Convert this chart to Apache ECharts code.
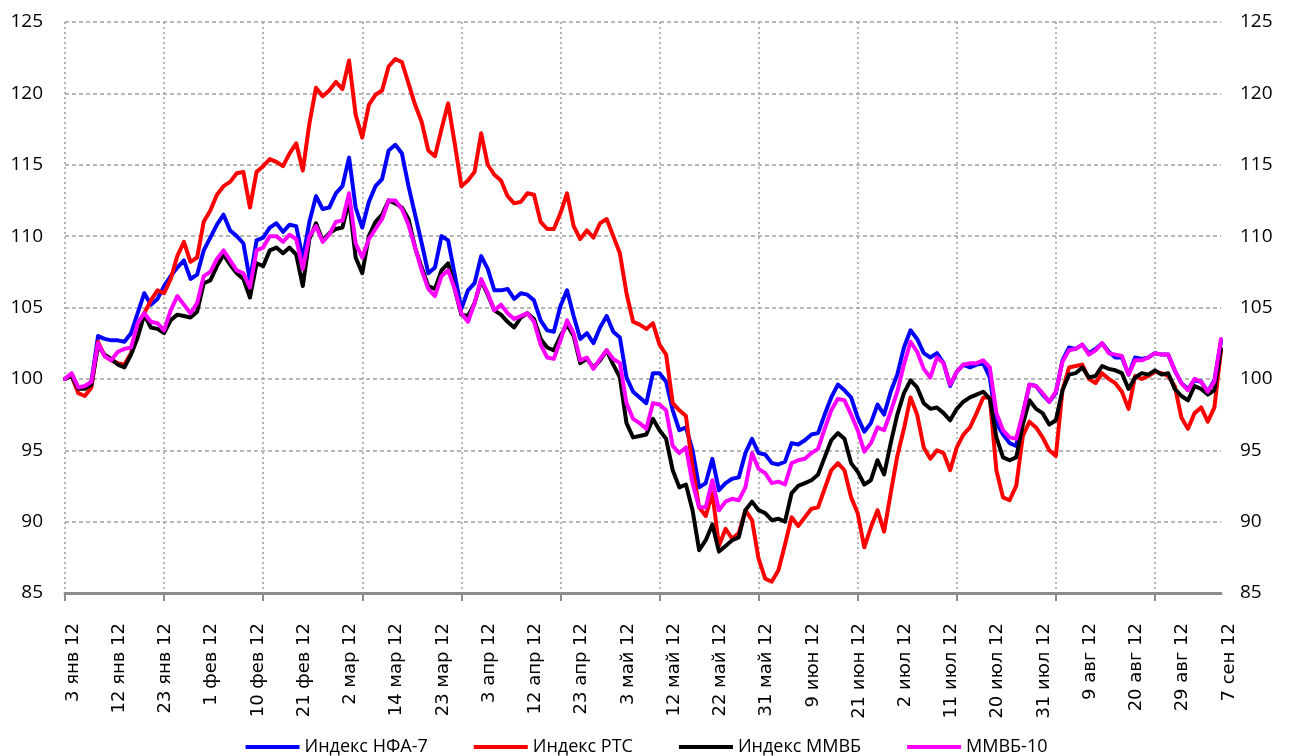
<!DOCTYPE html>
<html>
<head>
<meta charset="utf-8">
<title>Индексы 2012</title>
<script src="https://cdn.jsdelivr.net/npm/echarts@6/dist/echarts.min.js"></script>
<style>
  html, body { margin: 0; padding: 0; background: #fff; }
  #chart { width: 1293px; height: 756px; }
</style>
</head>
<body>
<div id="chart"></div>
<script>
// trading days of 2012 by month (labels are built from these)
var monthNames = ["янв", "фев", "мар", "апр", "май", "июн", "июл", "авг", "сен"];
var tradingDays = [
    [3, 4, 5, 6, 9, 10, 11, 12, 13, 16, 17, 18, 19, 20, 23, 24, 25, 26, 27, 30, 31],
    [1, 2, 3, 6, 7, 8, 9, 10, 13, 14, 15, 16, 17, 20, 21, 22, 24, 27, 28, 29],
    [1, 2, 5, 6, 7, 11, 12, 13, 14, 15, 16, 19, 20, 21, 22, 23, 26, 27, 28, 29, 30],
    [2, 3, 4, 5, 6, 9, 10, 11, 12, 13, 16, 17, 18, 19, 20, 23, 24, 25, 26, 27, 28],
    [2, 3, 4, 5, 7, 8, 10, 11, 12, 14, 15, 16, 17, 18, 21, 22, 23, 24, 25, 28, 29, 30, 31],
    [1, 4, 5, 6, 7, 8, 9, 13, 14, 15, 18, 19, 20, 21, 22, 25, 26, 27, 28, 29],
    [2, 3, 4, 5, 6, 9, 10, 11, 12, 13, 16, 17, 18, 19, 20, 23, 24, 25, 26, 27, 30, 31],
    [1, 2, 3, 6, 7, 8, 9, 10, 13, 14, 15, 16, 17, 20, 21, 22, 23, 24, 27, 28, 29, 30, 31],
    [3, 4, 5, 6, 7]
];

var seriesNames = ["Индекс НФА-7", "Индекс РТС", "Индекс ММВБ", "ММВБ-10"];

var nfa7 = [
    100.0, 100.3, 99.4, 99.4, 99.8, 103.0, 102.8, 102.7, 102.7, 102.6,
    103.2, 104.6, 106.0, 105.2, 105.6, 106.5, 107.2, 107.8, 108.3, 107.0,
    107.3, 109.0, 109.9, 110.8, 111.5, 110.4, 110.0, 109.5, 106.9, 109.7,
    109.9, 110.6, 110.9, 110.3, 110.8, 110.7, 108.4, 111.0, 112.8, 111.9,
    112.0, 113.0, 113.5, 115.5, 112.0, 110.6, 112.4, 113.5, 114.0, 116.0,
    116.4, 115.8, 113.5, 111.5, 109.5, 107.4, 107.8, 110.0, 109.7, 107.3,
    104.9, 106.2, 106.7, 108.6, 107.7, 106.2, 106.2, 106.3, 105.6, 106.0,
    105.9, 105.5, 104.1, 103.4, 103.3, 105.1, 106.2, 104.4, 102.8, 103.2,
    102.5, 103.6, 104.4, 103.3, 102.9, 100.1, 99.1, 98.7, 98.3, 100.4,
    100.4, 99.8, 97.8, 96.4, 96.6, 95.0, 92.4, 92.7, 94.4, 92.2,
    92.7, 93.0, 93.1, 94.8, 95.8, 94.8, 94.7, 94.1, 94.0, 94.2,
    95.5, 95.4, 95.7, 96.1, 96.2, 97.5, 98.7, 99.6, 99.2, 98.7,
    97.3, 96.3, 96.9, 98.2, 97.5, 99.1, 100.3, 102.2, 103.4, 102.8,
    101.8, 101.5, 101.8, 101.1, 99.5, 100.5, 101.0, 100.8, 101.0, 101.1,
    100.1, 96.9, 96.1, 95.5, 95.3, 97.5, 99.6, 99.5, 98.9, 98.4,
    99.0, 101.3, 102.2, 102.1, 102.4, 101.8, 102.1, 102.5, 101.9, 101.5,
    101.5, 100.3, 101.5, 101.4, 101.5, 101.8, 101.7, 101.7, 100.6, 99.7,
    99.3, 99.9, 99.8, 99.1, 99.9, 102.6
];

var rts = [
    100.0, 100.2, 99.0, 98.8, 99.4, 102.6, 101.6, 101.3, 101.1, 101.0,
    101.8, 103.4, 104.6, 105.5, 106.2, 106.0, 107.0, 108.6, 109.6, 108.2,
    108.5, 111.0, 111.8, 112.9, 113.5, 113.8, 114.4, 114.5, 112.0, 114.5,
    114.9, 115.4, 115.2, 114.9, 115.8, 116.5, 114.6, 117.9, 120.4, 119.8,
    120.2, 120.8, 120.3, 122.3, 118.5, 116.9, 119.2, 119.9, 120.2, 121.9,
    122.4, 122.2, 120.7, 119.2, 118.0, 116.0, 115.6, 117.5, 119.3, 116.5,
    113.5, 113.9, 114.5, 117.2, 115.0, 114.3, 113.9, 112.8, 112.3, 112.4,
    113.0, 112.9, 111.0, 110.5, 110.5, 111.6, 113.0, 110.7, 109.8, 110.4,
    109.9, 110.9, 111.2, 110.0, 108.8, 106.0, 104.0, 103.8, 103.5, 103.9,
    102.4, 101.7, 98.3, 97.8, 97.4, 93.8, 91.0, 90.4, 92.0, 88.3,
    89.5, 88.8, 89.2, 90.8, 90.1, 87.4, 86.0, 85.8, 86.6, 88.4,
    90.3, 89.7, 90.3, 90.9, 91.0, 92.3, 93.6, 94.1, 93.6, 91.7,
    90.6, 88.2, 89.6, 90.8, 89.3, 92.0, 94.6, 96.5, 98.7, 97.5,
    95.2, 94.4, 95.0, 94.8, 93.6, 95.2, 96.1, 96.6, 97.6, 98.7,
    98.7, 93.6, 91.7, 91.5, 92.5, 96.0, 97.0, 96.6, 95.9, 95.0,
    94.6, 99.2, 100.8, 100.9, 101.0, 100.0, 99.7, 100.4, 100.0, 99.7,
    99.1, 97.9, 100.2, 100.0, 100.2, 100.5, 100.4, 100.2, 99.5, 97.3,
    96.5, 97.6, 98.0, 97.0, 98.0, 102.0
];

var micex = [
    100.0, 100.2, 99.3, 99.3, 99.6, 102.3, 101.7, 101.4, 101.0, 100.8,
    101.7, 102.9, 104.5, 103.6, 103.5, 103.2, 104.1, 104.5, 104.4, 104.3,
    104.7, 106.7, 106.9, 107.9, 108.7, 108.0, 107.4, 107.0, 105.7, 108.1,
    107.9, 109.0, 109.2, 108.8, 109.2, 108.7, 106.5, 109.8, 110.9, 109.7,
    110.2, 110.5, 110.6, 112.5, 108.5, 107.4, 110.0, 111.0, 111.5, 112.5,
    112.3, 112.0, 111.2, 109.2, 107.8, 106.5, 106.3, 107.6, 108.1, 106.3,
    104.5, 104.4, 105.3, 106.9, 105.9, 104.8, 104.5, 104.0, 103.6, 104.3,
    104.6, 104.2, 102.8, 102.2, 102.0, 103.0, 103.8, 103.0, 101.1, 101.4,
    100.8, 101.3, 102.0, 101.0, 100.1, 96.9, 95.9, 96.0, 96.1, 97.2,
    96.4, 95.8, 93.6, 92.4, 92.6, 90.8, 88.0, 88.7, 89.8, 87.9,
    88.3, 88.7, 88.9, 90.8, 91.4, 90.8, 90.6, 90.1, 90.2, 90.0,
    92.0, 92.5, 92.7, 92.9, 93.3, 94.5, 95.7, 96.2, 95.8, 94.1,
    93.5, 92.6, 92.9, 94.3, 93.3, 95.5, 97.5, 99.0, 99.9, 99.4,
    98.3, 97.9, 98.0, 97.6, 97.1, 97.9, 98.4, 98.7, 98.9, 99.1,
    98.6, 95.9, 94.5, 94.3, 94.5, 96.8, 98.5, 97.9, 97.6, 96.8,
    97.1, 99.2, 100.3, 100.4, 100.8, 100.1, 100.2, 100.9, 100.7, 100.6,
    100.4, 99.3, 100.1, 100.4, 100.3, 100.6, 100.3, 100.4, 99.3, 98.8,
    98.5, 99.5, 99.3, 98.9, 99.2, 102.1
];

var micex10 = [
    100.0, 100.4, 99.4, 99.5, 99.8, 102.5, 101.6, 101.3, 101.9, 102.1,
    102.2, 103.9, 104.6, 104.0, 103.9, 103.4, 104.8, 105.8, 105.2, 104.6,
    105.3, 107.2, 107.5, 108.4, 109.0, 108.3, 107.6, 107.4, 106.4, 109.0,
    109.2, 110.0, 110.0, 109.6, 110.1, 109.8, 107.7, 110.0, 110.7, 109.6,
    110.1, 111.0, 111.1, 113.0, 109.5, 108.5, 109.8, 110.5, 111.2, 112.5,
    112.5, 111.9, 110.8, 109.2, 107.6, 106.3, 105.8, 107.2, 107.6, 106.3,
    104.6, 104.0, 105.3, 107.0, 106.0, 104.8, 105.2, 104.6, 104.2, 104.4,
    104.6, 104.0, 102.4, 101.5, 101.4, 102.7, 104.1, 103.2, 101.3, 101.5,
    100.7, 101.4, 102.0, 101.4, 101.1, 98.3, 97.2, 96.9, 96.5, 98.3,
    98.2, 97.8, 95.3, 94.8, 95.2, 92.7, 91.0, 91.0, 92.9, 90.8,
    91.4, 91.6, 91.5, 92.4, 94.8, 93.7, 93.4, 92.7, 92.8, 92.6,
    94.1, 94.3, 94.4, 94.8, 95.1, 96.5, 97.8, 98.6, 98.5, 97.5,
    96.4, 94.9, 95.5, 96.6, 96.4, 97.7, 99.1, 101.0, 102.6, 101.9,
    100.7, 100.1, 101.5, 101.1, 99.6, 100.5, 101.0, 101.1, 101.1, 101.3,
    100.8, 97.6, 96.4, 95.9, 95.8, 97.6, 99.6, 99.5, 99.0, 98.4,
    99.1, 101.2, 102.0, 102.1, 102.4, 101.7, 102.0, 102.5, 101.8, 101.7,
    101.6, 100.3, 101.3, 101.3, 101.5, 101.8, 101.7, 101.7, 100.6, 99.7,
    99.2, 100.0, 99.8, 99.1, 99.8, 102.8
];

var colors = ["#0000ff", "#ff0000", "#000000", "#ff00ff"];

var categories = [];
tradingDays.forEach(function (days, m) {
    days.forEach(function (d) {
        categories.push(d + " " + monthNames[m] + " 12");
    });
});

var chart = echarts.init(document.getElementById("chart"), null, { renderer: "canvas" });

var yLabelStyle = { color: "#000", fontSize: 19, fontFamily: "Open Sans" };

var option = {
    animation: false,
    backgroundColor: "#fff",
    grid: { left: 65, right: 72, top: 22, bottom: 163, containLabel: false },
    legend: {
        top: 733,
        left: "center",
        icon: "rect",
        itemWidth: 54,
        itemHeight: 4,
        itemGap: 46,
        textStyle: { color: "#000", fontSize: 18, fontFamily: "Open Sans" },
        data: seriesNames
    },
    xAxis: {
        type: "category",
        boundaryGap: false,
        data: categories,
        axisLine: { lineStyle: { color: "#8c8c8c", width: 3 } },
        axisTick: { show: true, interval: 14, length: 8, lineStyle: { color: "#8c8c8c", width: 2 } },
        axisLabel: {
            interval: 6,
            rotate: 90,
            margin: 30,
            verticalAlign: "top",
            lineHeight: 16,
            color: "#000",
            fontSize: 18,
            fontFamily: "DejaVu Sans"
        },
        splitLine: {
            show: true,
            interval: 14,
            lineStyle: { color: "#a0a0a0", width: 1.5, type: [2, 3] }
        }
    },
    yAxis: [
        {
            type: "value",
            min: 85,
            max: 125,
            interval: 5,
            axisLine: { show: false },
            axisTick: { show: false },
            axisLabel: Object.assign({ margin: 22 }, yLabelStyle),
            splitLine: { lineStyle: { color: "#a0a0a0", width: 1.5, type: [4, 3] } }
        },
        {
            type: "value",
            position: "right",
            min: 85,
            max: 125,
            interval: 5,
            axisLine: { show: false },
            axisTick: { show: false },
            axisLabel: Object.assign({ margin: 19 }, yLabelStyle),
            splitLine: { show: false }
        }
    ],
    series: [nfa7, rts, micex, micex10].map(function (values, k) {
        return {
            name: seriesNames[k],
            type: "line",
            data: values,
            showSymbol: false,
            symbol: "none",
            color: colors[k],
            lineStyle: { color: colors[k], width: 4, join: "round", cap: "round" }
        };
    })
};

chart.setOption(option);
</script>
</body>
</html>
